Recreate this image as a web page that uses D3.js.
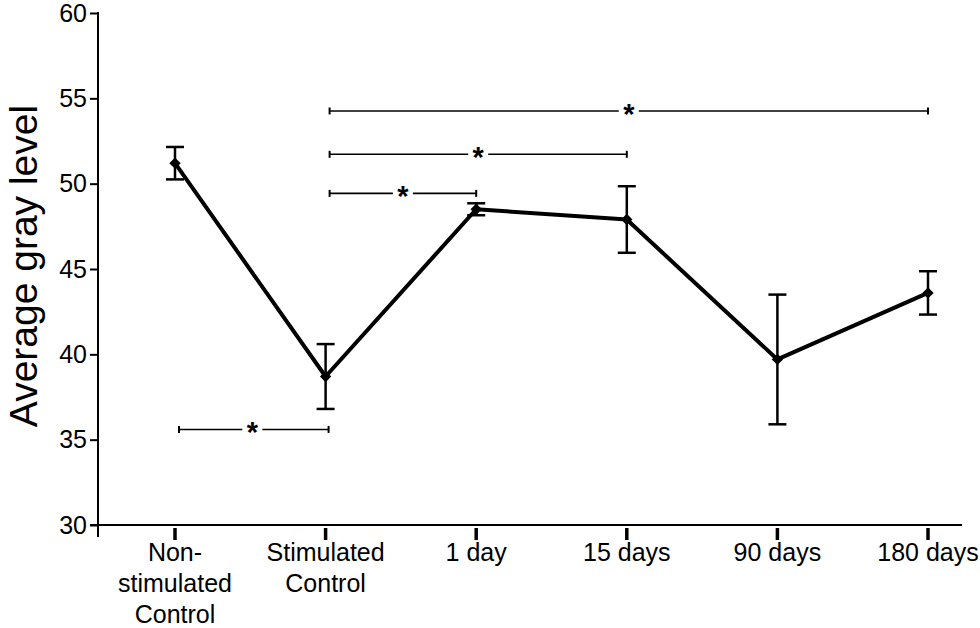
<!DOCTYPE html>
<html>
<head>
<meta charset="utf-8">
<script src="https://cdn.jsdelivr.net/npm/d3@7"></script>
<style>
  body { margin: 0; background: #fff; }
  svg { display: block; font-family: "Liberation Sans", Arial, sans-serif; }
</style>
</head>
<body>
<svg id="chart" width="980" height="628"></svg>
<script>
// data
const categories = ["Non-stimulated Control", "Stimulated Control", "1 day", "15 days", "90 days", "180 days"];
const categoryLines = [["Non-", "stimulated", "Control"], ["Stimulated", "Control"], ["1 day"], ["15 days"], ["90 days"], ["180 days"]];
const means = [51.2, 38.7, 48.5, 47.9, 39.7, 43.6];
const errors = [0.95, 1.9, 0.35, 1.95, 3.8, 1.27];
const yTicks = [30, 35, 40, 45, 50, 55, 60];
const brackets = [
    { from: 0, to: 1, level: 35.6 },
    { from: 1, to: 2, level: 49.43 },
    { from: 1, to: 3, level: 51.72 },
    { from: 1, to: 5, level: 54.26 }
];

const svg = d3.select("#chart");
const points = categories.map((c, i) => ({ cat: c, mean: means[i], err: errors[i], lines: categoryLines[i] }));

const x = d3.scalePoint()
    .domain(categories)
    .range([175, 928]);

const y = d3.scaleLinear()
    .domain([30, 60])
    .range([525, 13]);

// y axis
const yAxis = svg.append("g")
    .attr("transform", "translate(98,0)")
    .call(d3.axisLeft(y).tickValues(yTicks).tickSize(8).tickPadding(3));
yAxis.select(".domain").remove();
yAxis.selectAll(".tick line").attr("stroke", "#000").attr("stroke-width", 2);
yAxis.selectAll(".tick text")
    .attr("font-size", 25)
    .attr("font-family", "Liberation Sans, Arial, sans-serif")
    .attr("fill", "#000");
svg.append("line")
    .attr("x1", 98).attr("x2", 98)
    .attr("y1", y(60) - 1).attr("y2", 537)
    .attr("stroke", "#000").attr("stroke-width", 2);

// x axis line with detached thick ticks
svg.append("line")
    .attr("x1", 90).attr("x2", 962)
    .attr("y1", y(30)).attr("y2", y(30))
    .attr("stroke", "#000").attr("stroke-width", 2);

svg.selectAll("line.xtick")
    .data(points)
    .enter()
    .append("line")
    .attr("class", "xtick")
    .attr("x1", d => x(d.cat)).attr("x2", d => x(d.cat))
    .attr("y1", 528).attr("y2", 540)
    .attr("stroke", "#000").attr("stroke-width", 3.5);

const xLabels = svg.selectAll("text.xlabel")
    .data(points)
    .enter()
    .append("text")
    .attr("class", "xlabel")
    .attr("text-anchor", "middle")
    .attr("font-size", 25)
    .attr("fill", "#000");
xLabels.selectAll("tspan")
    .data(d => d.lines.map(t => ({ t, cat: d.cat })))
    .enter()
    .append("tspan")
    .attr("x", d => x(d.cat))
    .attr("y", (d, i) => 561 + i * 31)
    .text(d => d.t);

// y title
svg.append("text")
    .attr("transform", "translate(37,266) rotate(-90)")
    .attr("text-anchor", "middle")
    .attr("font-size", 39)
    .attr("fill", "#000")
    .text("Average gray level");

// significance brackets
const br = svg.selectAll("g.bracket")
    .data(brackets)
    .enter()
    .append("g")
    .attr("class", "bracket");

br.append("line")
    .attr("x1", d => x(categories[d.from]) + 4)
    .attr("x2", d => x(categories[d.to]) + (d.from === 0 ? 3 : 0))
    .attr("y1", d => y(d.level)).attr("y2", d => y(d.level))
    .attr("stroke", "#000").attr("stroke-width", 1.6);
br.append("line")
    .attr("x1", d => x(categories[d.from]) + 4).attr("x2", d => x(categories[d.from]) + 4)
    .attr("y1", d => y(d.level) - 3.5).attr("y2", d => y(d.level) + 3.5)
    .attr("stroke", "#000").attr("stroke-width", 2);
br.append("line")
    .attr("x1", d => x(categories[d.to]) + (d.from === 0 ? 3 : 0))
    .attr("x2", d => x(categories[d.to]) + (d.from === 0 ? 3 : 0))
    .attr("y1", d => y(d.level) - 3.5).attr("y2", d => y(d.level) + 3.5)
    .attr("stroke", "#000").attr("stroke-width", 2);
br.append("rect")
    .attr("x", d => (x(categories[d.from]) + x(categories[d.to])) / 2 + 2 - 10)
    .attr("y", d => y(d.level) - 4)
    .attr("width", 20).attr("height", 8)
    .attr("fill", "#fff");
br.append("text")
    .attr("x", d => (x(categories[d.from]) + x(categories[d.to])) / 2 + 2)
    .attr("y", d => y(d.level) + 13)
    .attr("text-anchor", "middle")
    .attr("font-size", 29)
    .attr("font-weight", "bold")
    .attr("fill", "#000")
    .text("*");

// error bars
const eb = svg.selectAll("g.err")
    .data(points)
    .enter()
    .append("g")
    .attr("class", "err")
    .attr("stroke", "#000")
    .attr("stroke-width", 2.5);
eb.append("line")
    .attr("x1", d => x(d.cat)).attr("x2", d => x(d.cat))
    .attr("y1", d => y(d.mean + d.err)).attr("y2", d => y(d.mean - d.err));
eb.append("line")
    .attr("x1", d => x(d.cat) - 9).attr("x2", d => x(d.cat) + 9)
    .attr("y1", d => y(d.mean + d.err)).attr("y2", d => y(d.mean + d.err));
eb.append("line")
    .attr("x1", d => x(d.cat) - 9).attr("x2", d => x(d.cat) + 9)
    .attr("y1", d => y(d.mean - d.err)).attr("y2", d => y(d.mean - d.err));

// mean line
const line = d3.line()
    .x(d => x(d.cat))
    .y(d => y(d.mean));
svg.append("path")
    .datum(points)
    .attr("d", line)
    .attr("fill", "none")
    .attr("stroke", "#000")
    .attr("stroke-width", 4)
    .attr("stroke-linejoin", "round");

// diamond markers (rotated squares)
svg.selectAll("path.marker")
    .data(points)
    .enter()
    .append("path")
    .attr("class", "marker")
    .attr("transform", d => `translate(${x(d.cat)},${y(d.mean)}) rotate(45)`)
    .attr("d", d3.symbol(d3.symbolSquare, 64))
    .attr("fill", "#000");
</script>
</body>
</html>
